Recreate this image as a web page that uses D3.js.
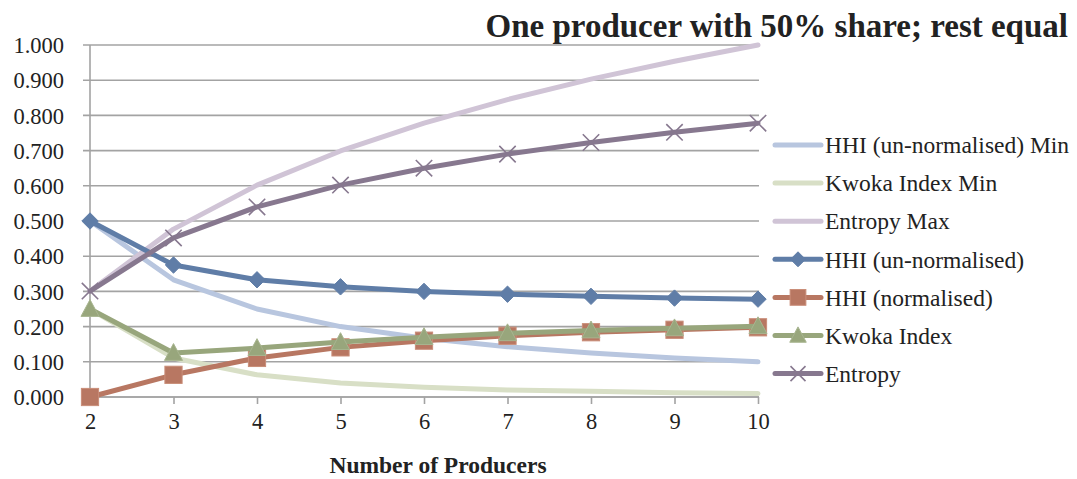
<!DOCTYPE html>
<html>
<head>
<meta charset="utf-8">
<script src="https://cdn.jsdelivr.net/npm/d3@7"></script>
<style>
  html, body { margin: 0; padding: 0; background: #fff; }
  svg { display: block; }
  text { font-family: "Liberation Serif", "Times New Roman", serif; fill: #222; }
</style>
</head>
<body>
<svg id="chart" width="1077" height="479"></svg>
<script>
// Number of producers (one holds 50%, the rest share equally)
const producers = [2, 3, 4, 5, 6, 7, 8, 9, 10];

const hhiMin      = [0.500, 0.333, 0.250, 0.200, 0.167, 0.143, 0.125, 0.111, 0.100];
const kwokaMin    = [0.250, 0.111, 0.063, 0.040, 0.028, 0.020, 0.016, 0.012, 0.010];
const entropyMax  = [0.301, 0.477, 0.602, 0.699, 0.778, 0.845, 0.903, 0.954, 1.000];
const hhiRaw      = [0.500, 0.375, 0.333, 0.313, 0.300, 0.292, 0.286, 0.281, 0.278];
const hhiNorm     = [0.000, 0.063, 0.111, 0.141, 0.160, 0.174, 0.184, 0.191, 0.198];
const kwoka       = [0.250, 0.125, 0.139, 0.156, 0.170, 0.181, 0.189, 0.195, 0.201];
const entropy     = [0.301, 0.452, 0.540, 0.602, 0.650, 0.690, 0.723, 0.752, 0.778];

const yTicks = [0, 0.1, 0.2, 0.3, 0.4, 0.5, 0.6, 0.7, 0.8, 0.9, 1.0];

const series = [
  { name: "HHI (un-normalised) Min", values: hhiMin,     color: "#b8c6df", marker: null },
  { name: "Kwoka Index Min",         values: kwokaMin,   color: "#d8dfc6", marker: null },
  { name: "Entropy Max",             values: entropyMax, color: "#d0c4d6", marker: null },
  { name: "HHI (un-normalised)",     values: hhiRaw,     color: "#5f7da7", marker: "diamond" },
  { name: "HHI (normalised)",        values: hhiNorm,    color: "#b87762", marker: "square" },
  { name: "Kwoka Index",             values: kwoka,      color: "#98a67c", marker: "triangle" },
  { name: "Entropy",                 values: entropy,    color: "#87788f", marker: "cross" }
];

const serif = "'Liberation Serif', 'Times New Roman', serif";
const svg = d3.select("#chart");

const x = d3.scalePoint().domain(producers).range([90, 758]);
const y = d3.scaleLinear().domain([0, 1]).range([397, 45]);

// Horizontal gridlines, extended left as tick marks
const grid = svg.append("g");
grid.selectAll("line").data(yTicks).join("line")
  .attr("x1", 83).attr("x2", 759)
  .attr("y1", d => y(d)).attr("y2", d => y(d))
  .attr("stroke", "#a3a3a3").attr("stroke-width", 1.6);

// Y axis labels
const yAxis = svg.append("g").attr("transform", "translate(90,0)")
  .call(d3.axisLeft(y).tickValues(yTicks).tickFormat(d3.format(".3f")).tickSize(0).tickPadding(26));
yAxis.attr("font-family", serif);
yAxis.select(".domain").remove();
yAxis.selectAll("text").style("font-size", "22.5px").attr("dy", "0.34em")
  .style("font-family", serif).attr("fill", "#222");

// Y axis line
svg.append("line")
  .attr("x1", 90).attr("x2", 90).attr("y1", 45).attr("y2", 404)
  .attr("stroke", "#a3a3a3").attr("stroke-width", 1.6);

// X axis with tick marks below
const xAxis = svg.append("g").attr("transform", "translate(0,397)")
  .call(d3.axisBottom(x).tickSize(7).tickPadding(9));
xAxis.attr("font-family", serif);
xAxis.select(".domain").attr("d", "M90,0H759").attr("stroke", "#a3a3a3").attr("stroke-width", 1.6);
xAxis.selectAll(".tick line").attr("stroke", "#a3a3a3").attr("stroke-width", 1.6);
xAxis.selectAll("text").style("font-size", "22.5px")
  .style("font-family", serif).attr("fill", "#222");

// Marker shapes
function drawMarker(g, type, color, s) {
  if (type === "diamond") {
    g.append("path").attr("d", `M0,${-s}L${s},0L0,${s}L${-s},0Z`)
      .attr("fill", color).attr("stroke", color).attr("stroke-width", 1);
  } else if (type === "square") {
    const h = s * 1.05;
    g.append("rect").attr("x", -h).attr("y", -h)
      .attr("width", 2 * h).attr("height", 2 * h)
      .attr("fill", color).attr("stroke", "#c98d78").attr("stroke-width", 1);
  } else if (type === "triangle") {
    g.append("path").attr("d", `M0,${-s * 1.15}L${s * 1.1},${s * 0.9}L${-s * 1.1},${s * 0.9}Z`)
      .attr("fill", color).attr("stroke", "#a8b590").attr("stroke-width", 1);
  } else if (type === "cross") {
    g.append("path").attr("d", `M${-s},${-s}L${s},${s}M${-s},${s}L${s},${-s}`)
      .attr("fill", "none").attr("stroke", color).attr("stroke-width", 1.6);
  }
}

const line = d3.line().x((d, i) => x(producers[i])).y(d => y(d));

const plot = svg.append("g");
series.forEach(s => {
  plot.append("path").datum(s.values)
    .attr("d", line)
    .attr("fill", "none").attr("stroke", s.color)
    .attr("stroke-width", 5).attr("stroke-linejoin", "round").attr("stroke-linecap", "round");
  if (s.marker) {
    s.values.forEach((v, i) => {
      const g = plot.append("g").attr("transform", `translate(${x(producers[i])},${y(v)})`);
      drawMarker(g, s.marker, s.color, 8.2);
    });
  }
});

// Legend
const legend = svg.append("g");
series.forEach((s, i) => {
  const ly = 145 + i * 38.1;
  const g = legend.append("g").attr("transform", `translate(0,${ly})`);
  g.append("line").attr("x1", 775).attr("x2", 821).attr("y1", 0).attr("y2", 0)
    .attr("stroke", s.color).attr("stroke-width", 5).attr("stroke-linecap", "round");
  if (s.marker) {
    const m = g.append("g").attr("transform", "translate(798,0)");
    drawMarker(m, s.marker, s.color, 7.5);
  }
  g.append("text").attr("x", 825).attr("y", 0).attr("dy", "0.35em")
    .style("font-size", "23.5px").style("font-family", serif).text(s.name);
});

// Title
svg.append("text")
  .attr("x", 1068).attr("y", 37).attr("text-anchor", "end")
  .style("font-size", "33px").style("font-weight", "bold").style("font-family", serif)
  .text("One producer with 50% share; rest equal");

// X axis title
svg.append("text")
  .attr("x", 438).attr("y", 473).attr("text-anchor", "middle")
  .style("font-size", "23.5px").style("font-weight", "bold").style("font-family", serif)
  .text("Number of Producers");
</script>
</body>
</html>
